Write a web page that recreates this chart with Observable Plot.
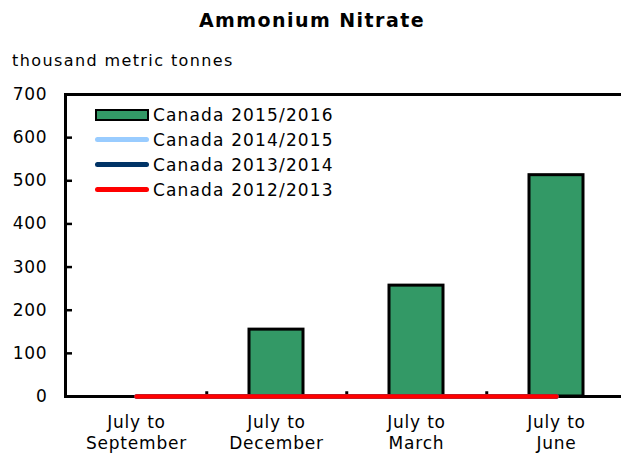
<!DOCTYPE html>
<html>
<head>
<meta charset="utf-8">
<script src="https://cdn.jsdelivr.net/npm/d3@7"></script>
<script src="https://cdn.jsdelivr.net/npm/@observablehq/plot@0.6"></script>
<style>
  html, body { margin: 0; padding: 0; background: #fff; overflow: hidden; }
  body { width: 621px; height: 455px; font-family: "DejaVu Sans", sans-serif; color: #000; }
  #wrap { position: relative; width: 621px; height: 455px; }
  #title { height: 40px; line-height: 40px; text-align: center; font-weight: bold; font-size: 19px; letter-spacing: 1.45px; padding-left: 3px; }
  #subtitle { height: 38px; line-height: 38px; font-size: 16px; letter-spacing: 1.4px; padding-left: 12px; position: relative; top: 2px; }
  #legend { position: absolute; left: 95px; top: 102px; }
  .row { display: flex; align-items: center; height: 25px; font-size: 17px; letter-spacing: 1.15px; white-space: nowrap; }
  .sw { width: 54px; margin-right: 4px; box-sizing: border-box; }
</style>
</head>
<body>
<div id="wrap">
  <div id="title"></div>
  <div id="subtitle"></div>
  <div id="chart"></div>
  <div id="legend"></div>
</div>
<script>
const titleText = "Ammonium Nitrate";
const unitText = "thousand metric tonnes";
const categories = ["July to September", "July to December", "July to March", "July to June"];
const tickLabels = ["July to\nSeptember", "July to\nDecember", "July to\nMarch", "July to\nJune"];
const canada2015_16 = [null, 155, 257, 513];
const canada2014_15 = [0, 0, 0, 0];
const canada2013_14 = [0, 0, 0, 0];
const canada2012_13 = [0, 0, 0, 0];
const yTicks = [0, 100, 200, 300, 400, 500, 600, 700];
const barSeries = "Canada 2015/2016";
const lineSeriesNames = ["Canada 2014/2015", "Canada 2013/2014", "Canada 2012/2013"];
const lineSeriesValues = [canada2014_15, canada2013_14, canada2012_13];
const barColor = "#339966";
const lineColors = ["#99ccff", "#003366", "#ff0000"];

document.getElementById("title").textContent = titleText;
document.getElementById("subtitle").textContent = unitText;

const barData = categories.map((c, i) => ({category: c, value: canada2015_16[i]}));
const lineData = lineSeriesNames.flatMap((s, k) =>
  categories.map((c, i) => ({series: s, category: c, value: lineSeriesValues[k][i]})));
const labelOf = new Map(categories.map((c, i) => [c, tickLabels[i]]));

const xRange = [64.5, 626.5];
const step = (xRange[1] - xRange[0]) / categories.length;

const chart = Plot.plot({
  width: 621,
  height: 377,
  marginTop: 16,
  marginBottom: 59,
  marginLeft: 65,
  marginRight: 0,
  style: "font-family: 'DejaVu Sans', sans-serif; font-size: 17px; letter-spacing: 0.8px; color: #000; background: #fff;",
  x: {type: "band", domain: categories, range: xRange, padding: 0},
  y: {domain: [0, 700]},
  marks: [
    Plot.barY(barData, {x: "category", y: "value", fill: barColor, stroke: "#000", strokeWidth: 3, insetLeft: 43, insetRight: 43}),
    Plot.ruleY([700], {stroke: "#000", strokeWidth: 3}),
    Plot.ruleY([0], {stroke: "#000", strokeWidth: 3}),
    Plot.frame({anchor: "left", stroke: "#000", strokeWidth: 3}),
    Plot.ruleX(categories.slice(0, -1), {x: d => d, y1: 0, y2: 11, dx: step / 2, stroke: "#000", strokeWidth: 3}),
    Plot.lineY(lineData, {x: "category", y: "value", z: "series", stroke: d => lineColors[lineSeriesNames.indexOf(d.series)], strokeWidth: 4.5, strokeLinecap: "round"}),
    Plot.axisY({ticks: yTicks, tickSize: 0, tickPadding: 18, tickFormat: d => String(d), label: null}),
    Plot.axisY({anchor: "right", frameAnchor: "left", ticks: yTicks, tickSize: 6, strokeWidth: 2.5, tickFormat: () => "", label: null}),
    Plot.axisX({tickSize: 0, tickPadding: 16, lineHeight: 1.27, tickFormat: d => labelOf.get(d), label: null})
  ]
});
document.getElementById("chart").appendChild(chart);

const legend = document.getElementById("legend");
const rows = [{name: barSeries, type: "bar", color: barColor}]
  .concat(lineSeriesNames.map((s, k) => ({name: s, type: "line", color: lineColors[k]})));
for (const r of rows) {
  const row = document.createElement("div");
  row.className = "row";
  const sw = document.createElement("div");
  sw.className = "sw";
  if (r.type === "bar") {
    sw.style.height = "12px";
    sw.style.background = r.color;
    sw.style.border = "2.5px solid #000";
  } else {
    sw.style.height = "4.5px";
    sw.style.background = r.color;
    sw.style.borderRadius = "3px";
  }
  const t = document.createElement("span");
  t.textContent = r.name;
  row.appendChild(sw);
  row.appendChild(t);
  legend.appendChild(row);
}
</script>
</body>
</html>
